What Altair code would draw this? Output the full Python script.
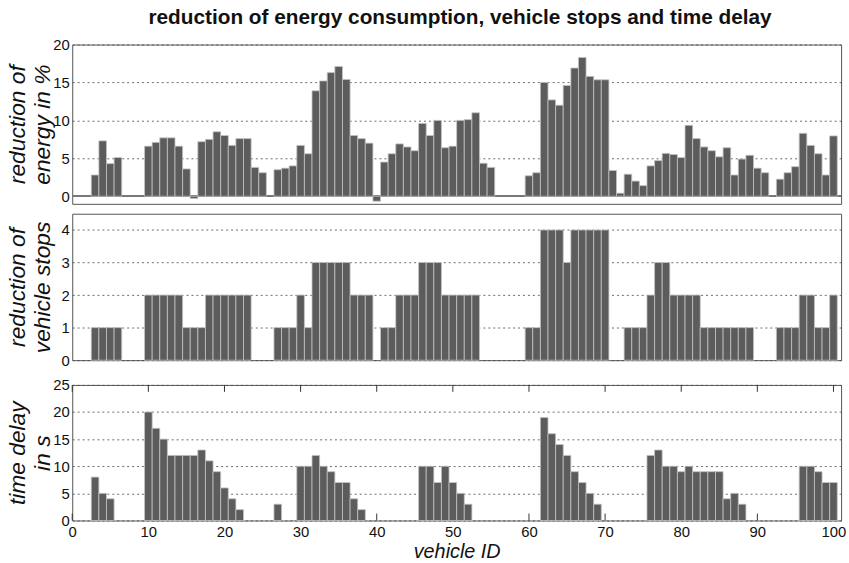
import altair as alt
import pandas as pd

vehicle_ids = list(range(1, 101))

energy_reduction = [
    0, 0, 2.8, 7.3, 4.3, 5.1, 0, 0, 0, 6.6,
    7.1, 7.7, 7.7, 6.6, 3.6, -0.3, 7.2, 7.5, 8.5, 8.0,
    6.7, 7.6, 7.6, 3.8, 3.1, 0, 3.5, 3.7, 4.0, 6.7,
    5.6, 13.9, 15.2, 16.3, 17.1, 15.4, 8.0, 7.6, 7.0, -0.65,
    4.5, 5.6, 6.9, 6.5, 6.0, 9.6, 8.0, 10.0, 6.4, 6.6,
    10.0, 10.1, 11.0, 4.35, 3.8, 0, 0, 0, 0, 2.7,
    3.1, 15.0, 12.7, 12.0, 14.6, 16.9, 18.3, 15.8, 15.35, 15.35,
    3.4, 0.4, 2.9, 2.0, 1.4, 4.0, 4.7, 5.65, 5.5, 5.1,
    9.35, 7.6, 6.5, 6.0, 5.2, 6.4, 2.8, 4.9, 5.4, 3.7,
    3.1, 0, 2.25, 3.1, 3.9, 8.3, 6.7, 5.6, 2.8, 7.95,
]

stops_reduction = [
    0, 0, 1, 1, 1, 1, 0, 0, 0, 2,
    2, 2, 2, 2, 1, 1, 1, 2, 2, 2,
    2, 2, 2, 0, 0, 0, 1, 1, 1, 2,
    1, 3, 3, 3, 3, 3, 2, 2, 2, 0,
    1, 1, 2, 2, 2, 3, 3, 3, 2, 2,
    2, 2, 2, 0, 0, 0, 0, 0, 0, 1,
    1, 4, 4, 4, 3, 4, 4, 4, 4, 4,
    0, 0, 1, 1, 1, 2, 3, 3, 2, 2,
    2, 2, 1, 1, 1, 1, 1, 1, 1, 0,
    0, 0, 1, 1, 1, 2, 2, 1, 1, 2,
]

time_delay = [
    0, 0, 8, 5, 4, 0, 0, 0, 0, 20,
    17, 15, 12, 12, 12, 12, 13, 11, 9, 6,
    4, 2, 0, 0, 0, 0, 3, 0, 0, 10,
    10, 12, 10, 9, 7, 7, 4, 2, 0, 0,
    0, 0, 0, 0, 0, 10, 10, 7, 10, 7,
    5, 3, 0, 0, 0, 0, 0, 0, 0, 0,
    0, 19, 16, 14, 12, 9, 7, 5, 3, 0,
    0, 0, 0, 0, 0, 12, 13, 10, 10, 9,
    10, 9, 9, 9, 9, 4, 5, 3, 0, 0,
    0, 0, 0, 0, 0, 10, 10, 9, 7, 7,
]

x_ticks = [0, 10, 20, 30, 40, 50, 60, 70, 80, 90, 100]
energy_ticks = [0, 5, 10, 15, 20]
stops_ticks = [0, 1, 2, 3, 4]
delay_ticks = [0, 5, 10, 15, 20, 25]

df = pd.DataFrame({
    "id": vehicle_ids,
    "energy": energy_reduction,
    "stops": stops_reduction,
    "delay": time_delay,
})
tick_df = pd.DataFrame({"t": x_ticks})

W = 777
LABEL_FONT = "Liberation Sans Narrow, Liberation Sans"
TITLE_FONT = "Liberation Sans"
BAR_FILL = "#5c5c5c"
BAR_EDGE = "#c4c4c4"

xscale = alt.Scale(domain=[0, 101], nice=False, zero=False)


def yaxis(values, title):
    return alt.Axis(
        values=values, title=title, grid=True, gridColor="#444444",
        gridDash=[2, 3], gridWidth=0.8, ticks=False, domain=False,
        labelFont=LABEL_FONT, labelFontSize=15, labelColor="#111111",
        labelPadding=3, minExtent=18, maxExtent=18,
        titleFont=TITLE_FONT, titleFontSize=23, titleFontStyle="italic",
        titleFontWeight="normal", titleColor="#111111", titleLineHeight=25,
        titlePadding=0,
    )


def panel(field, ydom, yticks, height, title, bottom):
    base = alt.Chart(df).transform_calculate(
        x0="datum.id - 0.5", x1="datum.id + 0.5"
    )
    if bottom:
        xaxis = alt.Axis(
            values=x_ticks, title="vehicle ID", grid=False, ticks=False,
            domain=False, labelFont=LABEL_FONT, labelFontSize=15,
            labelColor="#111111", labelPadding=4, titleFont=TITLE_FONT,
            titleFontSize=20, titleFontStyle="italic", titleFontWeight="normal",
            titleColor="#111111", titlePadding=2, labelFlush=False,
        )
    else:
        xaxis = None
    bars = base.transform_filter(f"datum.{field} != 0").mark_rect(
        fill=BAR_FILL, stroke=BAR_EDGE, strokeWidth=0.8
    ).encode(
        x=alt.X("x0:Q", scale=xscale, axis=xaxis),
        x2="x1:Q",
        y=alt.Y(f"{field}:Q", scale=alt.Scale(domain=ydom, nice=False, zero=False),
                axis=yaxis(yticks, title)),
        y2=alt.datum(0),
    )
    layers = []
    if ydom[0] < 0:
        layers.append(alt.Chart(df).mark_rule(color="#777777", strokeWidth=1).encode(
            y=alt.datum(0)))
    if bottom:
        top_ticks = alt.Chart(tick_df).mark_rule(color="#333333", strokeWidth=1).encode(
            x=alt.X("t:Q", scale=xscale), y=alt.value(0), y2=alt.value(7))
        bot_ticks = alt.Chart(tick_df).mark_rule(color="#333333", strokeWidth=1).encode(
            x=alt.X("t:Q", scale=xscale), y=alt.value(height - 7), y2=alt.value(height))
        layers += [top_ticks, bot_ticks]
    layers.append(bars)
    return alt.layer(*layers).properties(width=W, height=height)


p1 = panel("energy", [-1, 20], energy_ticks, 161, ["reduction of", "energy in %"], False)
p2 = panel("stops", [0, 4.5], stops_ticks, 148, ["reduction of", "vehicle stops"], False)
p3 = panel("delay", [0, 25], delay_ticks, 137, ["time delay", "in s"], True)

chart = alt.vconcat(p1, p2, p3, spacing=8).properties(
    title=alt.TitleParams(
        "reduction of energy consumption, vehicle stops and time delay",
        font=TITLE_FONT, fontSize=21, fontWeight="bold", color="#111111",
        anchor="middle", offset=9, dx=34,
    ),
    padding={"left": 6, "top": 4, "right": 2, "bottom": 0},
    background="white",
).configure_view(stroke="#555555", strokeWidth=1)

chart.save("out.html", embed_options={"renderer": "svg", "actions": False})
